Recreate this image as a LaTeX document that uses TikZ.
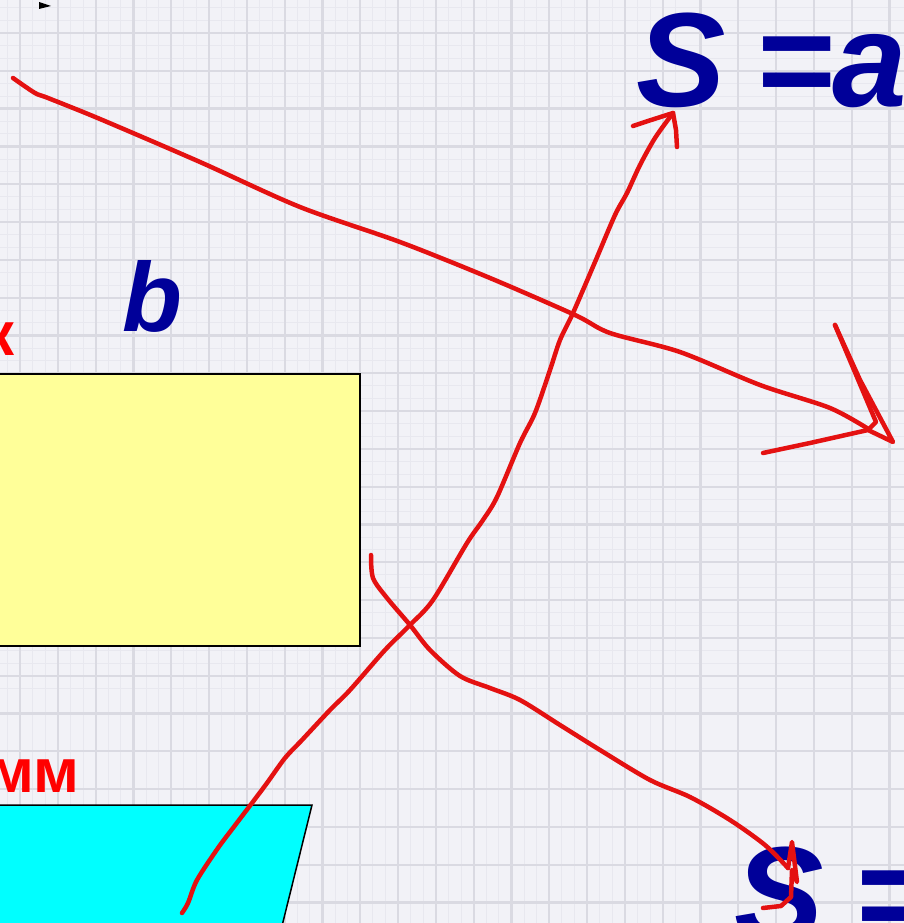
\documentclass[tikz,border=0pt]{standalone}
\usepackage{fontspec}
\setmainfont{Liberation Sans}
\definecolor{bgc}{HTML}{F2F2F7}
\definecolor{gridmaj}{HTML}{DADAE2}
\definecolor{gridmin}{HTML}{E8E8EF}
\definecolor{dblue}{HTML}{000099}
\definecolor{pen}{HTML}{E41111}
\definecolor{yel}{HTML}{FFFF99}
\definecolor{cya}{HTML}{00FFFF}
\tikzset{
  ink/.style={draw=pen, line width=4.5pt, line cap=round, line join=round},
  bluetxt/.style={text=dblue, font=\fontsize{134}{140}\selectfont\bfseries\itshape, inner sep=0pt},
  redtxt/.style={text=red, font=\fontsize{62}{66}\selectfont\bfseries, inner sep=0pt},
}
\begin{document}
\begin{tikzpicture}[x=1pt,y=-1pt]
\useasboundingbox (0,0) rectangle (904,923);
\clip (0,0) rectangle (904,923);
\fill[bgc] (0,0) rectangle (904,923);
% minor grid
\foreach \i in {0,...,72} {
  \draw[gridmin, line width=0.8pt] (20+12.6*\i-252,0) -- (20+12.6*\i-252,923);
  \draw[gridmin, line width=0.8pt] (0,33+12.6*\i-252) -- (904,33+12.6*\i-252);
}
% major grid
\foreach \i in {0,...,25} {
  \draw[gridmaj, line width=2.2pt] (20+37.8*\i,0) -- (20+37.8*\i,923);
  \draw[gridmaj, line width=2.2pt] (0,-4.8+37.8*\i) -- (904,-4.8+37.8*\i);
}
% small black arrowhead
\fill[black] (39,2) -- (51,6) -- (39,9) -- cycle;
% shapes
\draw[fill=yel, line width=1.5pt] (-5,374) rectangle (360,646);
\draw[fill=cya, line width=1.5pt] (-5,805) -- (312,805) -- (281,930) -- (-5,930) -- cycle;
% texts
\node[bluetxt, anchor=base west] (sa) at (636,107) {S\kern-7pt{} =\kern-2pt{}a};
\node[bluetxt, anchor=base west, font=\fontsize{98}{100}\selectfont\bfseries\itshape] (b) at (122,331) {b};
\node[bluetxt, anchor=base west] (sb) at (734,940) {S\kern-6pt{} =};
\node[redtxt, anchor=base east] (k) at (15,355) {к};
\node[redtxt, anchor=base east] (mm) at (80,792) {мм};
% red freehand strokes
\draw[ink] plot[smooth, tension=0.5] coordinates {(13,78) (35,93) (48,98) (100,119) (200,162) (300,207) (400,242) (490,278) (575,315) (610,333) (680,352) (760,385) (830,408) (870,430)};
\draw[ink] (835,325) -- (860,380) -- (893,442) -- (868,430) -- (810,443) -- (763,453);
\draw[ink] (835,325) -- (876,422) -- (868,430);
\draw[ink] plot[smooth, tension=0.5] coordinates {(182,913) (188,903) (197,880) (218,848) (233,828) (252,803) (267,783) (285,758) (302,740) (330,710) (350,690) (385,650) (410,625) (433,600) (467,543) (483,520) (497,497) (520,443) (535,413) (550,370) (560,340) (573,313) (595,262) (615,215) (627,193) (640,165) (655,138) (673,113)};
\draw[ink] (633,126) -- (648,121) -- (673,113) -- (676,130) -- (677,147);
\draw[ink] plot[smooth, tension=0.5] coordinates {(371,555) (373,578) (387,598) (410,625) (430,650) (460,676) (490,688) (520,700) (560,725) (600,750) (650,780) (690,797) (730,820) (765,845) (788,868)};
\draw[ink] (788,868) -- (792,842) -- (797,882) -- (792,870) -- (791,897) -- (781,906) -- (763,908);
\end{tikzpicture}
\end{document}
